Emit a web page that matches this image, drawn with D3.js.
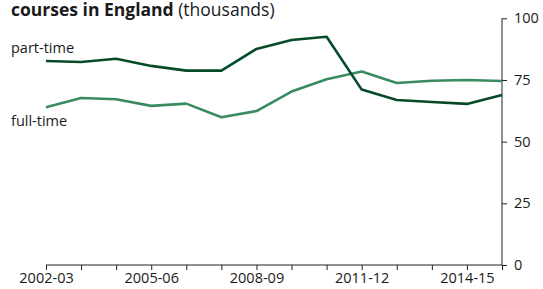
<!DOCTYPE html>
<html><head><meta charset="utf-8">
<script src="https://cdn.jsdelivr.net/npm/d3@7"></script>
<style>body{margin:0;background:#fff}svg{display:block}text{font-family:"Open Sans",sans-serif;fill:#1a1a1a}</style>
</head><body><svg id="c" width="543" height="289"></svg>
<script>
const years = ["2002-03","2003-04","2004-05","2005-06","2006-07","2007-08","2008-09","2009-10","2010-11","2011-12","2012-13","2013-14","2014-15","2015-16"];
const partTime = [82.7,82.3,83.6,80.7,78.8,78.8,87.6,91.2,92.5,71.1,66.9,66.1,65.3,68.9];
const fullTime = [63.9,67.7,67.2,64.5,65.4,59.9,62.4,70.3,75.3,78.4,73.8,74.7,75.0,74.6];
const yTicks = [0,25,50,75,100];
const xLabels = ["2002-03","2005-06","2008-09","2011-12","2014-15"];
const seriesNames = ["part-time","full-time"];
const colors = ["#064a28","#3a8b5f"];

const svg = d3.select("#c");
const x = d3.scalePoint().domain(years).range([46, 502]);
const y = d3.scaleLinear().domain([0,100]).range([265, 18.3]);

// title
const t = svg.append("text").attr("x",11).attr("y",16).style("font-size","17.5px");
t.append("tspan").attr("font-weight","bold").text("courses in England");
t.append("tspan").text(" (thousands)");

// x axis
const xa = svg.append("g").attr("transform","translate(0,265)")
  .call(d3.axisBottom(x).tickSize(5).tickFormat(d => xLabels.includes(d) ? d : ""));
xa.select(".domain").attr("d","M46,0H502").attr("stroke","#222");
xa.selectAll(".tick line").attr("stroke","#222");
xa.selectAll(".tick text").attr("y",8).style("font-size","14.5px").style("font-family","'Open Sans',sans-serif").attr("fill","#1a1a1a");

// y axis
const ya = svg.append("g").attr("transform","translate(502,0)")
  .call(d3.axisRight(y).tickValues(yTicks).tickSize(5).tickPadding(7));
ya.select(".domain").attr("d","M0,18.3V265").attr("stroke","#222");
ya.selectAll(".tick line").attr("stroke","#222");
ya.selectAll(".tick text").style("font-size","14.5px").style("font-family","'Open Sans',sans-serif").attr("fill","#1a1a1a");

const line = d3.line().x((d,i)=>x(years[i])).y(d=>y(d));
[fullTime, partTime].forEach((s,k)=>{
  svg.append("path").attr("d", line(s)).attr("fill","none")
    .attr("stroke", k===0 ? colors[1] : colors[0]).attr("stroke-width",2.6)
    .attr("stroke-linejoin","round");
});

svg.append("text").attr("x",11).attr("y",53).style("font-size","14.5px").text(seriesNames[0]);
svg.append("text").attr("x",11).attr("y",126).style("font-size","14.5px").text(seriesNames[1]);
</script></body></html>
